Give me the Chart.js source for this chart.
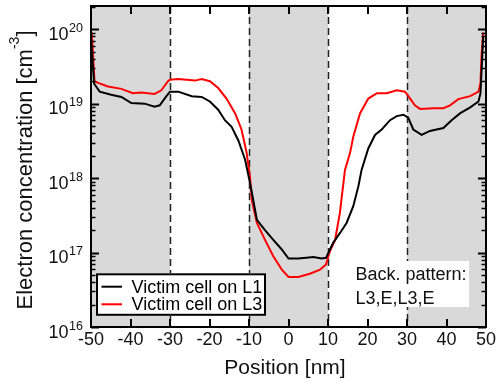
<!DOCTYPE html>
<html>
<head>
<meta charset="utf-8">
<script src="https://cdn.jsdelivr.net/npm/chart.js@4"></script>
<style>
  html, body { margin: 0; padding: 0; background: #fff; }
  canvas { display: block; }
</style>
</head>
<body>
<canvas id="chart" width="496" height="387"></canvas>
<script>
// Electron concentration along the string, two victim-cell positions

// ---- data ----
const posL1 = [-50, -49.2, -47.8, -44.9, -42.3, -39.8, -36.4, -33.9, -32.6, -30.9, -30, -27.9, -24.5, -22, -19.9,
  -17.8, -16.1, -14.4, -12.7, -11, -10, -9.3, -8, -5.95, -3.85, -1.7, 0, 2.5, 4.5, 6.3, 8.4, 9.5, 10.5, 11.3,
  13, 14.7, 16.4, 17.7, 18.5, 20.2, 21.9, 23.6, 25.7, 27.4, 29.1, 30.3, 31.6, 33.7, 35.8, 39.2, 41.3, 43.4,
  46, 48.1, 48.6, 49.3];
const nL1 = [7.0e19, 1.85e19, 1.45e19, 1.32e19, 1.23e19, 1.02e19, 1.0e19, 9.1e18, 9.5e18, 1.26e19, 1.45e19, 1.45e19,
  1.26e19, 1.23e19, 1.07e19, 8.3e18, 6.0e18, 4.9e18, 3.2e18, 1.78e18, 1.0e18, 6.5e17, 2.75e17, 2.0e17, 1.48e17,
  1.1e17, 8.3e16, 8.3e16, 8.5e16, 8.7e16, 8.3e16, 8.5e16, 1.1e17, 1.35e17, 1.82e17, 2.5e17, 4.2e17, 7.8e17,
  1.29e18, 2.5e18, 3.8e18, 4.5e18, 6.0e18, 6.8e18, 7.1e18, 6.5e18, 4.5e18, 3.8e18, 4.3e18, 4.7e18, 6.0e18,
  7.4e18, 8.9e18, 1.07e19, 1.38e19, 8.0e19];

const posL3 = [-49.8, -49.1, -48.2, -45.7, -42.3, -39.4, -37.3, -33.9, -32.2, -30.5, -30, -27.9, -23.7, -22, -19.9,
  -17.8, -15.7, -13.5, -11.9, -10.6, -9.75, -9.3, -8, -5.95, -3.85, -1.7, 0, 2.5, 5.4, 8, 9.5, 10.5, 11.8, 13,
  14.3, 15.6, 16.4, 18.1, 20.2, 22.4, 24.9, 27.4, 29.5, 30.8, 32, 33.3, 36.7, 39.2, 40.9, 43, 46, 48.1, 48.6,
  48.9, 49.3];
const nL3 = [9.0e19, 2.0e19, 1.9e19, 1.7e19, 1.58e19, 1.38e19, 1.41e19, 1.35e19, 1.51e19, 2.0e19, 2.1e19, 2.14e19,
  2.04e19, 2.14e19, 2.0e19, 1.62e19, 1.17e19, 7.4e18, 4.5e18, 2.2e18, 1.05e18, 5.1e17, 2.5e17, 1.48e17, 8.9e16,
  5.9e16, 4.7e16, 4.7e16, 5.2e16, 5.9e16, 6.9e16, 1.05e17, 1.48e17, 3.4e17, 1.29e18, 2.2e18, 3.6e18, 7.4e18,
  1.17e19, 1.38e19, 1.38e19, 1.51e19, 1.45e19, 1.17e19, 9.5e18, 8.5e18, 8.7e18, 8.7e18, 9.5e18, 1.15e19,
  1.26e19, 1.45e19, 1.9e19, 4.8e19, 9.0e19];

const xTicks = [-50, -40, -30, -20, -10, 0, 10, 20, 30, 40, 50];
const yDecades = [16, 17, 18, 19, 20];
const cellEdges = [-30, -10, 10, 30];
const grayBands = [[-50, -30], [-10, 10], [30, 50]];
const seriesNames = ['Victim cell on L1', 'Victim cell on L3'];
const noteLines = ['Back. pattern:', 'L3,E,L3,E'];

const FONT = '"Liberation Sans", Arial, sans-serif';

// ---- background bands + dashed cell boundaries ----
const backdrop = {
  id: 'backdrop',
  beforeDatasetsDraw(chart) {
    const { ctx, chartArea: a, scales: { x } } = chart;
    ctx.save();
    ctx.fillStyle = '#d9d9d9';
    grayBands.forEach(([lo, hi]) => {
      const x0 = x.getPixelForValue(lo), x1 = x.getPixelForValue(hi);
      ctx.fillRect(x0, a.top, x1 - x0, a.bottom - a.top);
    });
    ctx.strokeStyle = '#222';
    ctx.lineWidth = 1.5;
    ctx.setLineDash([7, 4]);
    cellEdges.forEach(v => {
      const px = Math.round(x.getPixelForValue(v)) + 0.5;
      ctx.beginPath();
      ctx.moveTo(px, a.top);
      ctx.lineTo(px, a.bottom);
      ctx.stroke();
    });
    ctx.restore();
  }
};

// ---- frame, inside ticks, labels, legend, note ----
const decor = {
  id: 'decor',
  afterDraw(chart) {
    const { ctx, chartArea: a, scales: { x, y } } = chart;
    ctx.save();

    // legend box
    ctx.fillStyle = '#fff';
    ctx.fillRect(96, 273, 170, 43);
    ctx.strokeStyle = '#000';
    ctx.lineWidth = 2;
    ctx.strokeRect(97, 274.3, 168, 40.5);
    ctx.font = '18px ' + FONT;
    ctx.textAlign = 'left';
    ctx.textBaseline = 'alphabetic';
    chart.data.datasets.forEach((ds, i) => {
      const ly = 286.7 + i * 17.6;
      ctx.strokeStyle = ds.borderColor;
      ctx.lineWidth = 2;
      ctx.beginPath();
      ctx.moveTo(101.5, ly);
      ctx.lineTo(122, ly);
      ctx.stroke();
      ctx.fillStyle = '#000';
      ctx.fillText(ds.label, 131.5, ly + 6);
    });

    // note box
    ctx.fillStyle = '#fff';
    ctx.fillRect(352, 261, 117, 46);
    ctx.fillStyle = '#111';
    noteLines.forEach((t, i) => ctx.fillText(t, 355.5, 279.5 + i * 24));

    // frame
    ctx.strokeStyle = '#000';
    ctx.lineWidth = 2;
    ctx.strokeRect(a.left, a.top, a.right - a.left, a.bottom - a.top);

    // x ticks (inside, bottom and top)
    xTicks.forEach(v => {
      const px = Math.round(x.getPixelForValue(v));
      ctx.beginPath();
      ctx.moveTo(px, a.bottom); ctx.lineTo(px, a.bottom - 8);
      ctx.moveTo(px, a.top); ctx.lineTo(px, a.top + 8);
      ctx.stroke();
    });

    // y ticks (inside, left and right), major + minor
    yDecades.forEach(d => {
      for (let m = 1; m <= 9; m++) {
        const v = m * Math.pow(10, d);
        if (v < y.min || v > y.max) continue;
        const py = Math.round(y.getPixelForValue(v)) + 0.5;
        const len = m === 1 ? 8 : 4.5;
        ctx.lineWidth = m === 1 ? 2 : 1.5;
        ctx.beginPath();
        ctx.moveTo(a.left, py); ctx.lineTo(a.left + len, py);
        ctx.moveTo(a.right, py); ctx.lineTo(a.right - len, py);
        ctx.stroke();
      }
    });

    // x tick labels
    ctx.fillStyle = '#111';
    ctx.font = '18px ' + FONT;
    ctx.textAlign = 'center';
    xTicks.forEach(v => ctx.fillText(String(v), x.getPixelForValue(v), 345));

    // y tick labels 10^n
    yDecades.forEach(d => {
      const py = y.getPixelForValue(Math.pow(10, d));
      ctx.font = '18px ' + FONT;
      ctx.textAlign = 'right';
      ctx.fillText('10', 68.5, py + 10.7);
      ctx.font = '12.5px ' + FONT;
      ctx.textAlign = 'left';
      ctx.fillText(String(d), 69, py + 2.5);
    });

    // x axis title
    ctx.font = '21px ' + FONT;
    ctx.textAlign = 'center';
    ctx.fillText('Position [nm]', 285, 374);

    // y axis title with superscript
    ctx.translate(31.5, 170);
    ctx.rotate(-Math.PI / 2);
    const main = 'Electron concentration [cm';
    const sup = '-3';
    const tail = ']';
    ctx.font = '22px ' + FONT;
    const wMain = ctx.measureText(main).width;
    const wTail = ctx.measureText(tail).width;
    ctx.font = '14px ' + FONT;
    const wSup = ctx.measureText(sup).width;
    let cx = -(wMain + wSup + wTail) / 2;
    ctx.textAlign = 'left';
    ctx.font = '22px ' + FONT;
    ctx.fillText(main, cx, 0);
    cx += wMain;
    ctx.font = '14px ' + FONT;
    ctx.fillText(sup, cx, -13);
    cx += wSup;
    ctx.font = '22px ' + FONT;
    ctx.fillText(tail, cx, 0);

    ctx.restore();
  }
};

const toPoints = (xs, ys) => xs.map((v, i) => ({ x: v, y: ys[i] }));

new Chart(document.getElementById('chart'), {
  type: 'line',
  data: {
    datasets: [
      { label: seriesNames[0], data: toPoints(posL1, nL1), borderColor: '#000', borderWidth: 2,
        pointRadius: 0, tension: 0, fill: false },
      { label: seriesNames[1], data: toPoints(posL3, nL3), borderColor: '#ff0000', borderWidth: 2,
        pointRadius: 0, tension: 0, fill: false }
    ]
  },
  options: {
    responsive: false,
    animation: false,
    layout: { padding: { top: 6, right: 10, left: 0, bottom: 0 } },
    scales: {
      x: {
        type: 'linear', min: -50, max: 50,
        ticks: { display: false }, grid: { display: false }, border: { display: false },
        afterFit(s) { s.height = 60; }
      },
      y: {
        type: 'logarithmic', min: 1e16, max: 2.05e20,
        ticks: { display: false }, grid: { display: false }, border: { display: false },
        afterFit(s) { s.width = 91; }
      }
    },
    plugins: { legend: { display: false }, tooltip: { enabled: false } }
  },
  plugins: [backdrop, decor]
});
</script>
</body>
</html>
